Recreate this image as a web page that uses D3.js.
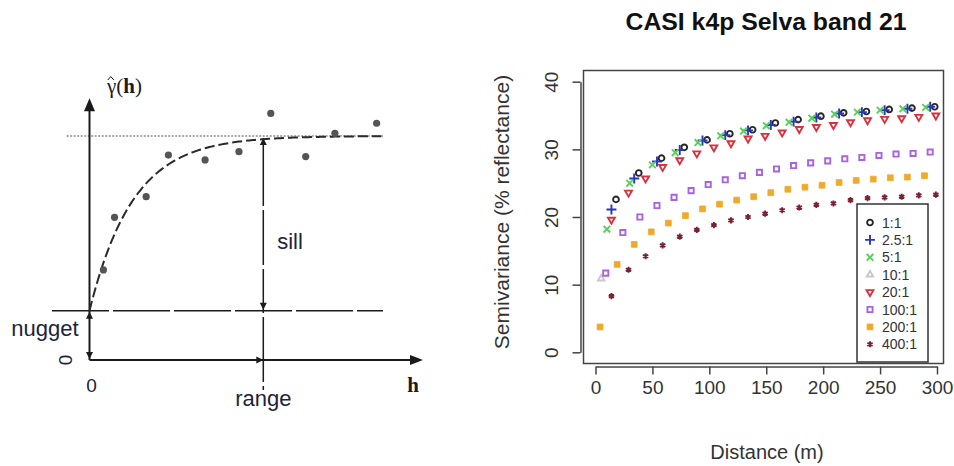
<!DOCTYPE html>
<html>
<head>
<meta charset="utf-8">
<script src="https://cdn.jsdelivr.net/npm/d3@7"></script>
<style>
  html, body { margin: 0; padding: 0; background: #fff; }
  svg { display: block; font-family: "Liberation Sans", Arial, sans-serif; }
</style>
</head>
<body>
<svg id="chart" width="954" height="466"></svg>
<script>
// ---------- Schematic semivariogram (left) ----------
const lagH = [0.8, 1.44, 3.26, 4.54, 6.65, 8.6, 10.43, 12.44, 14.12, 16.52];
const gammaObs = [4.02, 6.37, 7.29, 9.15, 8.93, 9.30, 11.01, 9.08, 10.12, 10.57];
const nugget = 2.2;
const sill = 10;
const rangeH = 10;

// ---------- CASI k4p Selva band 21 (right) ----------
const ratios = ["1:1", "2.5:1", "5:1", "10:1", "20:1", "100:1", "200:1", "400:1"];
const dist1 = [18, 38, 58, 78, 98, 118, 138, 158, 178, 198, 218, 238, 258, 278, 298];
const semi1 = [22.6, 26.5, 28.7, 30.3, 31.4, 32.3, 32.9, 33.9, 34.4, 34.9, 35.4, 35.6, 35.9, 36.1, 36.3];
const dist2_5 = [14, 34, 54, 74, 94, 114, 134, 154, 174, 194, 214, 234, 254, 274, 294];
const semi2_5 = [21.1, 25.7, 28.2, 29.9, 31.3, 32.1, 32.8, 33.6, 34.1, 34.7, 35.3, 35.5, 35.8, 36.0, 36.3];
const dist5 = [10, 30, 50, 70, 90, 110, 130, 150, 170, 190, 210, 230, 250, 270, 290];
const semi5 = [18.2, 25.0, 27.7, 29.5, 31.0, 32.0, 32.7, 33.5, 34.0, 34.6, 35.2, 35.5, 35.8, 36.0, 36.2];
const dist10 = [5];
const semi10 = [10.9];
const dist20 = [14, 29, 44, 59, 74, 89, 104, 119, 134, 149, 164, 179, 194, 209, 224, 239, 254, 269, 284, 299];
const semi20 = [19.6, 23.6, 25.7, 27.4, 28.4, 29.4, 30.3, 30.9, 31.6, 32.0, 32.5, 33.0, 33.3, 33.6, 34.0, 34.3, 34.5, 34.6, 34.8, 35.0];
const dist100 = [9, 24, 39, 54, 69, 84, 99, 114, 129, 144, 159, 174, 189, 204, 219, 234, 249, 264, 279, 294];
const semi100 = [11.7, 17.7, 20.0, 21.7, 22.9, 23.9, 24.8, 25.5, 26.1, 26.6, 27.1, 27.6, 28.0, 28.3, 28.6, 28.8, 29.1, 29.3, 29.4, 29.6];
const dist200 = [4, 19, 34, 49, 64, 79, 94, 109, 124, 139, 154, 169, 184, 199, 214, 229, 244, 259, 274, 289];
const semi200 = [3.75, 13.0, 15.95, 17.8, 19.1, 20.2, 21.2, 21.9, 22.5, 23.0, 23.6, 24.1, 24.4, 24.7, 25.1, 25.4, 25.6, 25.8, 25.9, 26.1];
const dist400 = [14, 29, 44, 59, 74, 89, 104, 119, 134, 149, 164, 179, 194, 209, 224, 239, 254, 269, 284, 299];
const semi400 = [8.3, 12.2, 14.2, 15.8, 17.1, 18.1, 18.8, 19.5, 20.0, 20.5, 21.0, 21.4, 21.8, 22.0, 22.5, 22.8, 22.9, 23.0, 23.2, 23.3];
const xTicks = [0, 50, 100, 150, 200, 250, 300];
const yTicks = [0, 10, 20, 30, 40];

const svg = d3.select("#chart");
const serif = "'Liberation Serif', 'DejaVu Serif', serif";

// ===== Left panel =====
const lx = d3.scaleLinear().domain([0, rangeH]).range([89.5, 263.3]);
const ly = d3.scaleLinear().domain([0, sill]).range([360, 136]);
const left = svg.append("g");
const ink = "#1b1b1b";
const labelInk = "#23233a";

// filled arrowhead with its tip at (x, y), pointing along angle (radians)
function arrowHead(g, x, y, angle, len, half) {
  const c = Math.cos(angle), s = Math.sin(angle);
  const p = d3.path();
  p.moveTo(x, y);
  p.lineTo(x - len * c - half * s, y - len * s + half * c);
  p.lineTo(x - len * c + half * s, y - len * s - half * c);
  p.closePath();
  g.append("path").attr("d", p.toString()).attr("fill", ink);
}

// sill reference (dotted)
left.append("line")
  .attr("x1", 66.7).attr("x2", 383)
  .attr("y1", ly(sill)).attr("y2", ly(sill))
  .attr("stroke", "#8a8a8a").attr("stroke-width", 1.6)
  .attr("stroke-dasharray", "2,1.5");

// nugget level (long dashes)
left.append("line")
  .attr("x1", 52).attr("x2", 383)
  .attr("y1", ly(nugget)).attr("y2", ly(nugget))
  .attr("stroke", ink).attr("stroke-width", 1.5)
  .attr("stroke-dasharray", "57,4");

// range marker (long dashes)
left.append("line")
  .attr("x1", lx(rangeH)).attr("x2", lx(rangeH))
  .attr("y1", ly(sill) + 2).attr("y2", 390)
  .attr("stroke", ink).attr("stroke-width", 1.5)
  .attr("stroke-dasharray", "68,4,55,4,44,4,65,4");

// axes
const yTop = 98.3, xEnd = 423;
left.append("line")
  .attr("x1", lx(0)).attr("x2", lx(0))
  .attr("y1", ly(0)).attr("y2", yTop + 8)
  .attr("stroke", ink).attr("stroke-width", 2);
arrowHead(left, lx(0), yTop, -Math.PI / 2, 13, 5.5);
left.append("line")
  .attr("x1", lx(0)).attr("x2", xEnd - 8)
  .attr("y1", ly(0)).attr("y2", ly(0))
  .attr("stroke", ink).attr("stroke-width", 2);
arrowHead(left, xEnd, ly(0), 0, 13, 5);

// small arrows: nugget span, sill span, range along h
arrowHead(left, lx(0), ly(nugget) + 1, -Math.PI / 2, 7, 3.5);
arrowHead(left, lx(0), ly(0) - 1, Math.PI / 2, 7, 3.5);
arrowHead(left, lx(rangeH), ly(sill) + 2, -Math.PI / 2, 7, 3.5);
arrowHead(left, lx(rangeH), ly(nugget) - 1, Math.PI / 2, 7, 3.5);
arrowHead(left, lx(rangeH), ly(0), 0, 7, 3.5);

// exponential model curve
const model = h => nugget + (sill - nugget) * (1 - Math.exp(-4 * h / rangeH));
const hGrid = d3.range(0, 16.9, 0.1);
left.append("path")
  .datum(hGrid)
  .attr("d", d3.line().x(h => lx(h)).y(h => ly(model(h))))
  .attr("fill", "none").attr("stroke", "#2a2a2a").attr("stroke-width", 2)
  .attr("stroke-dasharray", "10,4");

// observed semivariances
left.selectAll("circle.obs")
  .data(lagH)
  .join("circle")
  .attr("class", "obs")
  .attr("cx", d => lx(d))
  .attr("cy", (d, i) => ly(gammaObs[i]))
  .attr("r", 3.6)
  .attr("fill", "#555");

// axis title: gamma-hat(h)
const gLab = left.append("text")
  .attr("x", 107).attr("y", 93)
  .style("font-family", serif)
  .attr("font-size", 21).attr("fill", ink);
gLab.append("tspan").text("\u03b3(");
gLab.append("tspan").attr("font-weight", "bold").text("h");
gLab.append("tspan").text(")");
left.append("path")
  .attr("d", "M107.8,80 L110.8,76.5 L113.8,80")
  .attr("fill", "none").attr("stroke", ink).attr("stroke-width", 1);

left.append("text").attr("x", 290).attr("y", 249)
  .attr("font-size", 22).attr("text-anchor", "middle").attr("fill", labelInk).text("sill");
left.append("text").attr("x", 45).attr("y", 336)
  .attr("font-size", 22).attr("text-anchor", "middle").attr("fill", labelInk).text("nugget");
left.append("text").attr("x", lx(rangeH)).attr("y", 406)
  .attr("font-size", 22).attr("text-anchor", "middle").attr("fill", labelInk).text("range");
left.append("text").attr("x", lx(0) + 2).attr("y", 392)
  .attr("font-size", 19).attr("text-anchor", "middle").attr("fill", labelInk).text("0");
left.append("text")
  .attr("transform", `translate(72,${ly(0)}) rotate(-90)`)
  .attr("font-size", 19).attr("text-anchor", "middle").attr("fill", labelInk).text("0");
left.append("text").attr("x", 413).attr("y", 392)
  .style("font-family", serif)
  .attr("font-weight", "bold").attr("font-size", 21)
  .attr("text-anchor", "middle").attr("fill", ink).text("h");

// ===== Right panel =====
const x = d3.scaleLinear().domain([0, 300]).range([595.5, 937]);
const y = d3.scaleLinear().domain([0, 40]).range([352.3, 81.7]);
const right = svg.append("g");
const axisInk = "#333";

right.append("text")
  .attr("x", 766).attr("y", 30)
  .attr("text-anchor", "middle")
  .attr("font-weight", "bold").attr("font-size", 24)
  .attr("textLength", 281).attr("lengthAdjust", "spacingAndGlyphs")
  .attr("fill", "#111")
  .text("CASI k4p Selva band 21");

// plot frame
right.append("rect")
  .attr("x", 583.5).attr("y", 70.5)
  .attr("width", 360).attr("height", 293)
  .attr("fill", "none").attr("stroke", "#444").attr("stroke-width", 1.5);

// axes
const xAxis = right.append("g")
  .attr("transform", "translate(0,366.5)")
  .call(d3.axisBottom(x).tickValues(xTicks).tickSize(8).tickSizeOuter(0).tickPadding(6));
const yAxis = right.append("g")
  .attr("transform", "translate(580.5,0)")
  .call(d3.axisLeft(y).tickValues(yTicks).tickSize(8).tickSizeOuter(0));
[xAxis, yAxis].forEach(a => {
  a.select(".domain").attr("stroke", "#444").attr("stroke-width", 1.5);
  a.selectAll(".tick line").attr("stroke", "#444").attr("stroke-width", 1.5);
  a.selectAll(".tick text")
    .attr("font-family", "'Liberation Sans', Arial, sans-serif")
    .attr("font-size", 19).attr("fill", axisInk);
});
yAxis.selectAll(".tick text")
  .attr("x", null).attr("dy", null)
  .attr("text-anchor", "middle")
  .attr("transform", "translate(-22.5,0) rotate(-90)");

right.append("text")
  .attr("x", 767).attr("y", 459)
  .attr("text-anchor", "middle").attr("font-size", 20).attr("fill", axisInk)
  .text("Distance (m)");
right.append("text")
  .attr("transform", "translate(509,212) rotate(-90)")
  .attr("text-anchor", "middle").attr("font-size", 21).attr("fill", axisInk)
  .text("Semivariance (% reflectance)");

// series styling
const series = [
  { name: ratios[0], d: dist1, v: semi1, sym: d3.symbolCircle, color: "#262626", fill: false, size: 26 },
  { name: ratios[1], d: dist2_5, v: semi2_5, sym: d3.symbolPlus, color: "#2a36c0", fill: false, size: 34 },
  { name: ratios[2], d: dist5, v: semi5, sym: d3.symbolTimes, color: "#58d058", fill: false, size: 30 },
  { name: ratios[3], d: dist10, v: semi10, sym: d3.symbolTriangle2, color: "#c9c9c9", fill: false, size: 30 },
  { name: ratios[4], d: dist20, v: semi20, sym: d3.symbolTriangle2, color: "#d8323e", fill: false, size: 34, rot: 180 },
  { name: ratios[5], d: dist100, v: semi100, sym: d3.symbolSquare2, color: "#a863e0", fill: false, size: 34 },
  { name: ratios[6], d: dist200, v: semi200, sym: d3.symbolSquare, color: "#f0aa2a", fill: true, size: 34 },
  { name: ratios[7], d: dist400, v: semi400, sym: d3.symbolAsterisk, color: "#7a2030", fill: false, size: 26 }
];

function styleMark(sel, s) {
  sel.attr("d", d3.symbol().type(s.sym).size(s.size)())
    .attr("fill", s.fill ? s.color : "none")
    .attr("stroke", s.color)
    .attr("stroke-width", s.fill ? 0.8 : 1.9);
}

const marks = right.append("g");
series.forEach(s => {
  marks.append("g").selectAll("path")
    .data(s.d.map((dd, i) => ({ d: dd, v: s.v[i] })))
    .join("path")
    .attr("transform", p => `translate(${x(p.d)},${y(p.v)})` + (s.rot ? ` rotate(${s.rot})` : ""))
    .call(sel => styleMark(sel, s));
});

// legend
const legend = right.append("g");
legend.append("rect")
  .attr("x", 857).attr("y", 204)
  .attr("width", 71).attr("height", 158)
  .attr("fill", "#fff").attr("stroke", "#333").attr("stroke-width", 1.5);
series.forEach((s, i) => {
  const ry = 222.5 + i * 17.4;
  legend.append("path")
    .attr("transform", `translate(870,${ry})` + (s.rot ? ` rotate(${s.rot})` : ""))
    .call(sel => styleMark(sel, s));
  legend.append("text")
    .attr("x", 882).attr("y", ry + 5)
    .attr("font-size", 14).attr("fill", "#333")
    .text(s.name);
});
</script>
</body>
</html>
